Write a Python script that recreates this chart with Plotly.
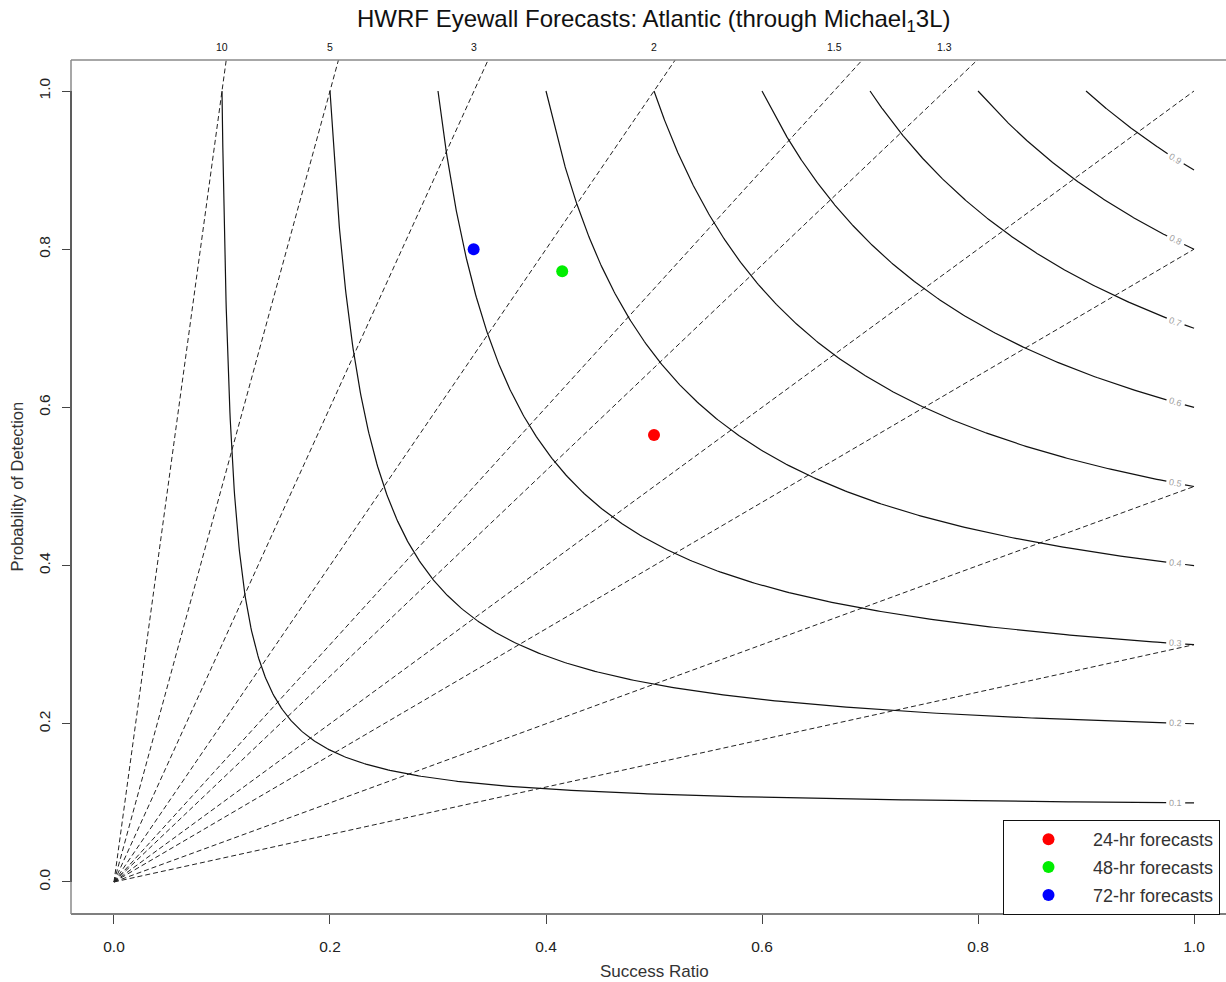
import numpy as np
import plotly.graph_objects as go

# ---- data ----
lead_names = ["24-hr forecasts", "48-hr forecasts", "72-hr forecasts"]
success_ratio = [0.500, 0.415, 0.333]
pod = [0.565, 0.772, 0.800]
point_colors = ["#ff0000", "#00ee00", "#0000ff"]

csi_levels = [0.1, 0.2, 0.3, 0.4, 0.5, 0.6, 0.7, 0.8, 0.9]
bias_levels = [0.3, 0.5, 0.8, 1.0, 1.3, 1.5, 2.0, 3.0, 5.0, 10.0]
bias_top_labels = ["10", "5", "3", "2", "1.5", "1.3"]
bias_top_values = [10.0, 5.0, 3.0, 2.0, 1.5, 1.3]

XR = [-0.0398, 1.0296]
YR = [-0.0405, 1.0392]
PX_X = 1080.0
PX_Y = 791.0

fig = go.Figure()

# bias (dashed) lines
for b in bias_levels:
    fig.add_trace(go.Scatter(x=[0, 1], y=[0, b], mode="lines",
                             line=dict(color="#222222", width=1, dash="5px,3px"),
                             hoverinfo="skip", showlegend=False))

# CSI contours
def csi_pod(c, sr):
    return 1.0 / (1.0 / c + 1.0 - 1.0 / sr)

for c in csi_levels:
    xc = 0.983
    slope = csi_pod(c, xc) ** 2 / xc ** 2 * PX_Y / PX_X
    theta = np.arctan(slope)
    dx = 9.5 * np.cos(theta) / PX_X
    sr1 = c + (xc - dx - c) * np.linspace(0, 1, 400) ** 2.5
    fig.add_trace(go.Scatter(x=sr1, y=csi_pod(c, sr1), mode="lines",
                             line=dict(color="#111111", width=1.2),
                             hoverinfo="skip", showlegend=False))
    sr2 = np.linspace(xc + dx, 1.0, 5)
    fig.add_trace(go.Scatter(x=sr2, y=csi_pod(c, sr2), mode="lines",
                             line=dict(color="#111111", width=1.2),
                             hoverinfo="skip", showlegend=False))
    fig.add_annotation(x=xc, y=csi_pod(c, xc), xref="x", yref="y",
                       text=str(c), showarrow=False, textangle=np.degrees(theta),
                       font=dict(size=9, color="#a0a0a0", family="Liberation Sans"))

# forecast points
for i, name in enumerate(lead_names):
    fig.add_trace(go.Scatter(x=[success_ratio[i]], y=[pod[i]], mode="markers",
                             name=name, legendgroup=name,
                             marker=dict(color=point_colors[i], size=12)))

# top bias labels
for lab, b in zip(bias_top_labels, bias_top_values):
    fig.add_annotation(x=1.0 / b, y=1, xref="x", yref="paper", yanchor="bottom",
                       yshift=5, text=lab, showarrow=False,
                       font=dict(size=10.5, color="#111111", family="Liberation Sans"))

# box (grey) and darker axis segments
box_c = "#8a8a8a"
fig.add_shape(type="line", xref="paper", yref="paper", x0=0, x1=1, y0=1, y1=1,
              line=dict(color=box_c, width=1.5))
fig.add_shape(type="line", xref="paper", yref="paper", x0=0, x1=1, y0=0, y1=0,
              line=dict(color="#555555", width=1.5))
fig.add_shape(type="line", xref="paper", yref="paper", x0=0, x1=0, y0=0, y1=1,
              line=dict(color=box_c, width=1.5))
fig.add_shape(type="line", xref="paper", yref="y", x0=0, x1=0, y0=0, y1=1,
              line=dict(color="#444444", width=1.5))

# axis titles and main title
fig.add_annotation(x=0.5, y=-0.0405, xref="x", yref="y", yanchor="middle",
                   yshift=-57, text="Success Ratio", showarrow=False,
                   font=dict(size=17, color="#333333", family="Liberation Sans"))
fig.add_annotation(x=-0.0398, y=0.5, xref="x", yref="y", xanchor="center",
                   xshift=-54, text="Probability of Detection", showarrow=False,
                   textangle=-90,
                   font=dict(size=16.5, color="#333333", family="Liberation Sans"))
fig.add_annotation(x=0.5, y=1, xref="x", yref="paper", yanchor="middle",
                   yshift=40, text="HWRF Eyewall Forecasts: Atlantic (through Michael<sub>1</sub>3L)",
                   showarrow=False,
                   font=dict(size=24, color="#111111", family="Liberation Sans"))

fig.update_layout(
    width=1226, height=982,
    margin=dict(l=71, r=0, t=60, b=68),
    plot_bgcolor="white", paper_bgcolor="white",
    font=dict(family="Liberation Sans", color="#222222"),
    showlegend=True,
    legend=dict(x=(1003 - 71) / 1155, y=(914 - 820) / 854, xanchor="left", yanchor="top",
                bordercolor="#111111", borderwidth=1, bgcolor="white",
                font=dict(size=18, color="#333333", family="Liberation Sans"),
                itemwidth=79, tracegroupgap=1.5),
    xaxis=dict(range=XR, showgrid=False, zeroline=False, showline=False,
               tickvals=[0, 0.2, 0.4, 0.6, 0.8, 1.0],
               ticktext=["0.0", "0.2", "0.4", "0.6", "0.8", "1.0"],
               ticks="outside", ticklen=9, tickcolor="#444444", tickwidth=1.2,
               tickfont=dict(size=15.5, color="#222222"), ticklabelstandoff=9),
    yaxis=dict(range=YR, showgrid=False, zeroline=False, showline=False,
               tickvals=[0, 0.2, 0.4, 0.6, 0.8, 1.0],
               ticktext=["0.0", "0.2", "0.4", "0.6", "0.8", "1.0"],
               ticks="outside", ticklen=8, tickcolor="#444444", tickwidth=1.2,
               tickangle=-90,
               tickfont=dict(size=15.5, color="#222222"), ticklabelstandoff=6),
)

fig.write_html("out.html")
